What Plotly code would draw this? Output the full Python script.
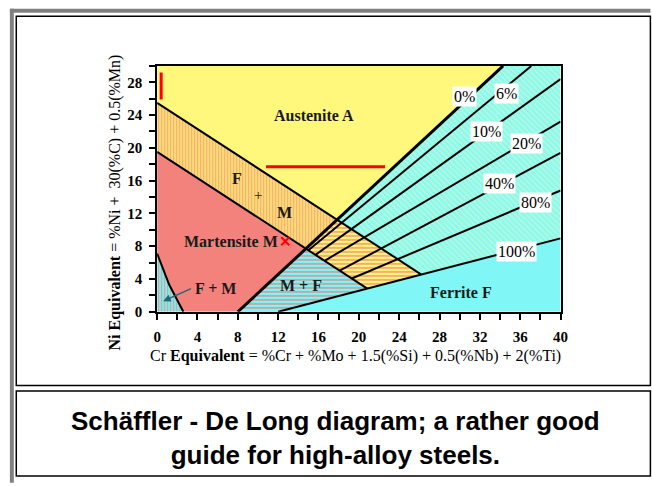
import plotly.graph_objects as go

W, H = 652, 486

# ---------------- diagram data (Cr equivalent, Ni equivalent) ----------------
# upper limit of martensite in austenite (A / A+M boundary)
a_edge_cr = [0, 26.2]
a_edge_ni = [25.5, 4.54]
# lower limit of the A+M band (M / A+M boundary)
m_edge_cr = [0, 20.84]
m_edge_ni = [19.5, 2.83]
# 0 % ferrite line and 100 % ferrite line
f0_cr = [8, 34.3]
f0_ni = [0, 30]
f100_cr = [12, 40]
f100_ni = [0, 8.96]
# F + M corner curve
fm_cr = [0, 1.2, 2.6]
fm_ni = [7.1, 3.3, 0]
# junctions of the boundaries
j_upper = (17.85, 11.22)   # A edge x 0 % line
j_lower = (14.75, 7.7)     # M edge x 0 % line

# intermediate ferrite lines
fan_pct = ["6%", "10%", "20%", "40%", "80%"]
fan_start_cr = [15.0, 15.7, 16.6, 18.1, 19.3]
fan_start_ni = [7.5, 6.94, 6.22, 5.02, 4.06]
fan_end_cr = [37.1, 40, 40, 40, 40]
fan_end_ni = [30, 28.4, 23.2, 19.4, 14.8]

# percentage label positions
pct_text = ["0%", "6%", "10%", "20%", "40%", "80%", "100%"]
pct_cr = [30.5, 34.6, 32.7, 36.6, 33.9, 37.5, 35.6]
pct_ni = [26.3, 26.6, 22.0, 20.5, 15.6, 13.3, 7.3]

# phase labels
phase_text = ["Austenite A", "F", "M", "Martensite M", "M + F", "F + M", "Ferrite F"]
phase_cr = [15.6, 7.9, 12.6, 7.3, 14.3, 5.8, 30.1]
phase_ni = [23.9, 16.3, 12.1, 8.6, 3.2, 2.9, 2.4]
plus_cr = [10.0]
plus_ni = [14.3]

# red marks
red_v_cr = [0.4, 0.4]
red_v_ni = [25.9, 29.2]
red_h_cr = [10.8, 22.6]
red_h_ni = [17.7, 17.7]
cross_cr = [12.7]
cross_ni = [8.6]

x_ticks = list(range(0, 41, 4))
y_ticks = list(range(0, 29, 4))

YEL = "#FFF87C"
RED = "#F3827C"
RED_STRIPE = "#EE6464"
CYA = "#80F6F6"
SERIF = "Liberation Serif"

fig = go.Figure()


def region(xs, ys, color=None, pattern=None):
    kw = dict(x=xs + [xs[0]], y=ys + [ys[0]], mode="lines", fill="toself",
              line=dict(width=0), hoverinfo="skip", showlegend=False)
    if pattern:
        kw["fillpattern"] = pattern
        kw["fillcolor"] = "rgba(0,0,0,0)"
    else:
        kw["fillcolor"] = color
    fig.add_trace(go.Scatter(**kw))


# Austenite
region([a_edge_cr[0], 0, f0_cr[1], j_upper[0]],
       [a_edge_ni[0], 30, f0_ni[1], j_upper[1]], YEL)
# A + M band
region([a_edge_cr[0], j_upper[0], j_lower[0], m_edge_cr[0]],
       [a_edge_ni[0], j_upper[1], j_lower[1], m_edge_ni[0]],
       pattern=dict(shape="|", bgcolor=YEL, fgcolor=RED_STRIPE, size=3, solidity=0.6))
# Martensite
region([m_edge_cr[0], j_lower[0], f0_cr[0]] + fm_cr[::-1],
       [m_edge_ni[0], j_lower[1], f0_ni[0]] + fm_ni[::-1], RED)
# F + M corner
region(fm_cr + [0], fm_ni + [0],
       pattern=dict(shape="|", bgcolor=CYA, fgcolor=RED_STRIPE, size=3, solidity=0.5))
# M + F
region([f0_cr[0], j_lower[0], m_edge_cr[1], f100_cr[0]],
       [f0_ni[0], j_lower[1], m_edge_ni[1], f100_ni[0]],
       pattern=dict(shape="-", bgcolor=CYA, fgcolor=RED_STRIPE, size=4, solidity=0.5))
# A + M + F
region([j_lower[0], j_upper[0], a_edge_cr[1], m_edge_cr[1]],
       [j_lower[1], j_upper[1], a_edge_ni[1], m_edge_ni[1]],
       pattern=dict(shape="-", bgcolor=YEL, fgcolor=RED_STRIPE, size=4, solidity=0.5))
# A + F
region([j_upper[0], f0_cr[1], 40, f100_cr[1], a_edge_cr[1]],
       [j_upper[1], f0_ni[1], 30, f100_ni[1], a_edge_ni[1]],
       pattern=dict(shape="\\", bgcolor="#88F8F8", fgcolor="#FFFF8C", size=4, solidity=0.3))
# Ferrite
region([f100_cr[0], f100_cr[1], 40], [f100_ni[0], f100_ni[1], 0], CYA)


def line(xs, ys, color="black", width=2):
    fig.add_trace(go.Scatter(x=xs, y=ys, mode="lines", hoverinfo="skip",
                             line=dict(color=color, width=width), showlegend=False))


line(a_edge_cr, a_edge_ni)
line(m_edge_cr, m_edge_ni)
line(fm_cr, fm_ni)
line(f0_cr, f0_ni, width=3)
line(f100_cr, f100_ni)
for sx, sy, ex, ey in zip(fan_start_cr, fan_start_ni, fan_end_cr, fan_end_ni):
    line([sx, ex], [sy, ey])
line(red_v_cr, red_v_ni, color="#FF0000", width=3)
line(red_h_cr, red_h_ni, color="#FF0000", width=3)

# ferrite percentage labels on white boxes
for t, x, y in zip(pct_text, pct_cr, pct_ni):
    fig.add_annotation(x=x, y=y, text=t, showarrow=False, bgcolor="white",
                       xanchor="center", yanchor="middle",
                       font=dict(family=SERIF, size=16, color="black"), borderpad=1)

# phase labels
for t, x, y in zip(phase_text, phase_cr, phase_ni):
    fig.add_annotation(x=x, y=y, text="<b>%s</b>" % t, showarrow=False,
                       xanchor="center", yanchor="middle",
                       font=dict(family=SERIF, size=16, color="#1a1a1a"))
fig.add_annotation(x=plus_cr[0], y=plus_ni[0], text="+", showarrow=False,
                   xanchor="center", yanchor="middle",
                   font=dict(family=SERIF, size=15, color="#1a1a1a"))
fig.add_trace(go.Scatter(x=cross_cr, y=cross_ni, mode="markers", hoverinfo="skip",
                         showlegend=False,
                         marker=dict(symbol="x-thin", size=8, line=dict(color="#FF0000", width=2))))
# arrow from the F + M label into the corner
fig.add_annotation(x=0.6, y=1.3, ax=3.5, ay=2.9, xref="x", yref="y", axref="x", ayref="y",
                   text="", showarrow=True, arrowhead=2, arrowsize=1, arrowwidth=1.5,
                   arrowcolor="#1b6a78")

px_x = lambda p: p / W
px_y = lambda p: 1 - p / H

axis_common = dict(
    ticks="outside", ticklen=6, tickwidth=2, tickcolor="black", ticklabelstandoff=4,
    minor=dict(dtick=2, ticks="outside", ticklen=6, tickwidth=2, tickcolor="black"),
    showgrid=False, zeroline=False, showline=True, linewidth=2, linecolor="black",
    mirror=True, tickfont=dict(family=SERIF, size=15, color="black", weight="bold"),
)
fig.update_layout(
    width=W, height=H, margin=dict(l=0, r=0, t=0, b=0),
    paper_bgcolor="white", plot_bgcolor="white",
    xaxis=dict(domain=[px_x(156), px_x(567)], range=[0, 40], tickvals=x_ticks, **axis_common),
    yaxis=dict(domain=[px_y(317), px_y(67)], range=[0, 30], tickvals=y_ticks, **axis_common),
)

# axis titles
fig.add_annotation(xref="paper", yref="paper", x=px_x(113), y=px_y(206), textangle=-90,
                   xanchor="center", yanchor="middle",
                   text="<b>Ni Equivalent</b> = %Ni +  30(%C) + 0.5(%Mn)", showarrow=False,
                   font=dict(family=SERIF, size=16, color="black"))
fig.add_annotation(xref="paper", yref="paper", x=px_x(358), y=px_y(362),
                   xanchor="center", yanchor="middle",
                   text="Cr <b>Equivalent</b> = %Cr + %Mo + 1.5(%Si) + 0.5(%Nb) + 2(%Ti)",
                   showarrow=False, font=dict(family=SERIF, size=16, color="black"))
# caption
fig.add_annotation(xref="paper", yref="paper", x=px_x(338), y=px_y(445),
                   xanchor="center", yanchor="middle",
                   text="<b>Schäffler - De Long diagram; a rather good<br>guide for high-alloy steels.</b>",
                   showarrow=False, align="center",
                   font=dict(family="Liberation Sans", size=26, color="black"))

# page frames
frame = [
    dict(type="rect", x0=px_x(6), x1=px_x(10), y0=-0.01, y1=px_y(9),
         fillcolor="#808080", line=dict(width=0)),
    dict(type="rect", x0=px_x(6), x1=1.01, y0=px_y(13), y1=px_y(9),
         fillcolor="#808080", line=dict(width=0)),
    dict(type="rect", x0=px_x(12.5), x1=1.01, y0=px_y(392), y1=px_y(16.5),
         line=dict(color="black", width=1.5)),
    dict(type="rect", x0=px_x(12.5), x1=1.01, y0=px_y(484), y1=px_y(397.5),
         line=dict(color="black", width=1.5)),
]
for s in frame:
    s.update(xref="paper", yref="paper")
    fig.add_shape(**s)

fig.write_html("out.html")
